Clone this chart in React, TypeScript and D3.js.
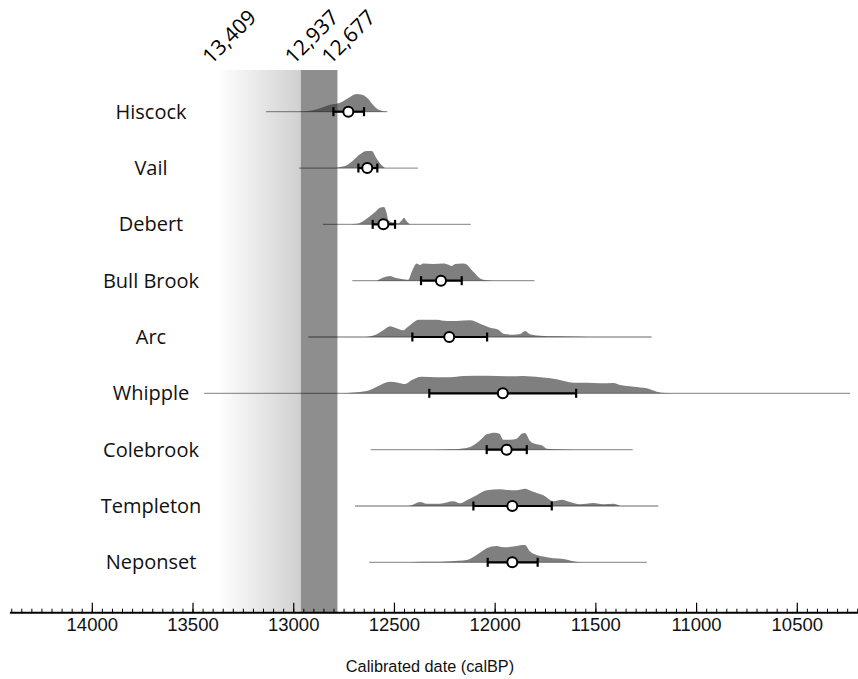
import React from "react";
import * as d3 from "d3";

const W = 858;
const H = 679;

const sites = ["Hiscock", "Vail", "Debert", "Bull Brook", "Arc", "Whipple", "Colebrook", "Templeton", "Neponset"];

// full range (thin line), years calBP
const rangeStart = [13138, 12974, 12855, 12709, 12928, 13445, 12618, 12696, 12625];
const rangeEnd = [12535, 12383, 12121, 11805, 11223, 10238, 11317, 11190, 11247];
// error bar (older, younger) and mean
const errOld = [12803, 12679, 12608, 12368, 12411, 12327, 12042, 12108, 12037];
const errYoung = [12651, 12585, 12497, 12166, 12040, 11598, 11843, 11719, 11789];
const means = [12729, 12635, 12555, 12269, 12228, 11962, 11943, 11915, 11915];

// probability distributions: [year, relative probability]
const distHiscock: [number, number][] = [[12969, 0], [12919, 1], [12869, 3.5], [12820, 7], [12770, 9], [12735, 13], [12711, 16], [12686, 17.7], [12661, 17], [12636, 14], [12611, 8], [12586, 3], [12556, 0.5], [12537, 0]];
const distVail: [number, number][] = [[12800, 0], [12787, 0.3], [12737, 2.7], [12704, 7.7], [12671, 13.7], [12638, 17], [12613, 17], [12588, 9.3], [12563, 2.7], [12547, 0]];
const distDebert: [number, number][] = [[12720, 0], [12687, 0.5], [12638, 5.7], [12596, 12.3], [12572, 16.7], [12552, 17.3], [12538, 10.7], [12530, 4], [12513, 2], [12481, 1], [12464, 4], [12452, 6.7], [12439, 3], [12423, 0]];
const distBullBrook: [number, number][] = [[12588, 0], [12522, 4.7], [12497, 3], [12447, 1.3], [12431, 1], [12414, 9], [12389, 17.3], [12373, 15.7], [12357, 17.3], [12307, 16.7], [12257, 17.3], [12232, 16], [12216, 14.7], [12199, 16.7], [12166, 17.3], [12150, 17], [12108, 9], [12075, 2.3], [12042, 0.5], [12009, 0]];
const distArc: [number, number][] = [[12638, 0], [12588, 2.7], [12555, 6.7], [12522, 10.7], [12497, 9.3], [12456, 6.7], [12439, 9.3], [12414, 13.3], [12381, 17.3], [12290, 17.3], [12240, 16], [12191, 16], [12125, 16.7], [12075, 13.3], [12025, 9.3], [11984, 7.3], [11959, 3.3], [11910, 2.3], [11876, 3], [11851, 6], [11827, 2.7], [11777, 1.3], [11694, 0.7], [11579, 0.3], [11496, 0]];
const distWhipple: [number, number][] = [[12760, 0], [12704, 0.8], [12638, 2.3], [12588, 6.7], [12522, 11.7], [12481, 10.7], [12447, 9.3], [12414, 13.3], [12365, 16.7], [12290, 16], [12224, 16], [12158, 17.3], [12042, 17.7], [11943, 17], [11860, 17.3], [11777, 16], [11694, 14], [11612, 10.7], [11545, 10.7], [11479, 10], [11413, 10.3], [11380, 8.3], [11314, 6.7], [11247, 5], [11198, 1.7], [11148, 0.3], [11100, 0]];
const distColebrook: [number, number][] = [[12300, 0], [12224, 0.3], [12141, 1.7], [12108, 4.3], [12075, 9.3], [12042, 15.3], [12001, 17], [11979, 16], [11959, 10], [11926, 10], [11893, 11], [11868, 16], [11852, 16.7], [11827, 8.7], [11794, 5.3], [11769, 4.3], [11744, 1], [11694, 0.5], [11612, 0]];
const distTempleton: [number, number][] = [[12460, 0], [12423, 0.3], [12373, 4], [12340, 2.3], [12274, 2.3], [12208, 4.7], [12174, 2.7], [12141, 5.7], [12092, 10.7], [12042, 15.7], [11976, 16.7], [11943, 16], [11893, 15.7], [11852, 17.3], [11818, 14.7], [11794, 13], [11761, 10.7], [11711, 4.7], [11669, 6.3], [11628, 4], [11579, 1.7], [11512, 3], [11463, 1.7], [11413, 2.3], [11380, 0]];
const distNeponset: [number, number][] = [[12420, 0], [12373, 0.5], [12274, 0.5], [12224, 1], [12141, 2.3], [12092, 7.3], [12042, 14], [11992, 16.3], [11959, 15], [11910, 15.7], [11876, 17], [11852, 17.3], [11827, 10.7], [11794, 7.3], [11761, 5.7], [11711, 4], [11661, 3.3], [11612, 1], [11562, 0]];
const distributions = [distHiscock, distVail, distDebert, distBullBrook, distArc, distWhipple, distColebrook, distTempleton, distNeponset];

// reference dates shown at top
const refLabels = ["13,409", "12,937", "12,677"];
const gradientStart = 13375;
const bandOld = 12965;
const bandYoung = 12783;
const labelAnchors = [13375, 12965, 12783];

const majorTicks = [14000, 13500, 13000, 12500, 12000, 11500, 11000, 10500];
const minorTicks = d3.range(14400, 10199, -50);

export default function App() {
  const x = d3.scaleLinear().domain([14000, 10500]).range([92.3, 797.3]);
  const y = d3.scalePoint<string>().domain(sites).range([111.7, 562.3]);
  const h = d3.scaleLinear().domain([0, 17.5]).range([0, 17.5]);
  const axisY = 612.7;
  const bandTop = 70;

  const sans = "'Open Sans', sans-serif";
  const arial = "'Liberation Sans', Arial, sans-serif";

  return (
    <svg width={W} height={H} style={{ position: "absolute", left: 0, top: 0, background: "#fff" }}>
      <defs>
        <linearGradient id="grad" x1="0" x2="1" y1="0" y2="0">
          <stop offset="0" stopColor="#ffffff" />
          <stop offset="1" stopColor="#d0d0d0" />
        </linearGradient>
      </defs>
      <rect x={x(gradientStart)} y={bandTop} width={x(bandOld) - x(gradientStart)} height={axisY - bandTop} fill="url(#grad)" />
      <rect x={x(bandOld)} y={bandTop} width={x(bandYoung) - x(bandOld)} height={axisY - bandTop} fill="#8e8e8e" />

      {refLabels.map((t, i) => {
        const tx = x(labelAnchors[i]) - 7;
        const ty = 65;
        return (
          <text key={t} x={tx} y={ty} transform={`rotate(-45 ${tx} ${ty})`} fontFamily={sans} fontSize={21} fill="#000">
            {t}
          </text>
        );
      })}

      {sites.map((s, i) => {
        const yy = y(s) as number;
        const area = d3
          .area<[number, number]>()
          .x((d) => x(d[0]))
          .y0(yy)
          .y1((d) => yy - h(d[1]))
          .curve(d3.curveMonotoneX);
        return (
          <g key={s}>
            <text x={151} y={yy + 7} textAnchor="middle" fontFamily={sans} fontSize={20} fill="#111">
              {s}
            </text>
            <line x1={x(rangeStart[i])} x2={x(rangeEnd[i])} y1={yy} y2={yy} stroke="#000" strokeOpacity={0.4} strokeWidth={1.3} />
            <path d={area(distributions[i]) || ""} fill="#343434" fillOpacity={0.63} />
            <line x1={x(errOld[i])} x2={x(errYoung[i])} y1={yy} y2={yy} stroke="#000" strokeWidth={2.2} />
            <line x1={x(errOld[i])} x2={x(errOld[i])} y1={yy - 4.5} y2={yy + 4.5} stroke="#000" strokeWidth={2.2} />
            <line x1={x(errYoung[i])} x2={x(errYoung[i])} y1={yy - 4.5} y2={yy + 4.5} stroke="#000" strokeWidth={2.2} />
            <circle cx={x(means[i])} cy={yy} r={5} fill="#fff" stroke="#000" strokeWidth={2} />
          </g>
        );
      })}

      <line x1={x(14409)} x2={W} y1={axisY} y2={axisY} stroke="#000" strokeWidth={2} />
      {minorTicks.map((t) => (
        <line key={"m" + t} x1={x(t)} x2={x(t)} y1={axisY} y2={axisY - 4} stroke="#000" strokeWidth={1} />
      ))}
      {majorTicks.map((t) => (
        <g key={"M" + t}>
          <line x1={x(t)} x2={x(t)} y1={axisY} y2={axisY - 10} stroke="#000" strokeWidth={1.2} />
          <text x={x(t)} y={630.7} textAnchor="middle" fontFamily={arial} fontSize={18.5} fill="#111">
            {t}
          </text>
        </g>
      ))}
      <text x={430} y={672} textAnchor="middle" fontFamily={arial} fontSize={16.3} fill="#111">
        Calibrated date (calBP)
      </text>
    </svg>
  );
}
